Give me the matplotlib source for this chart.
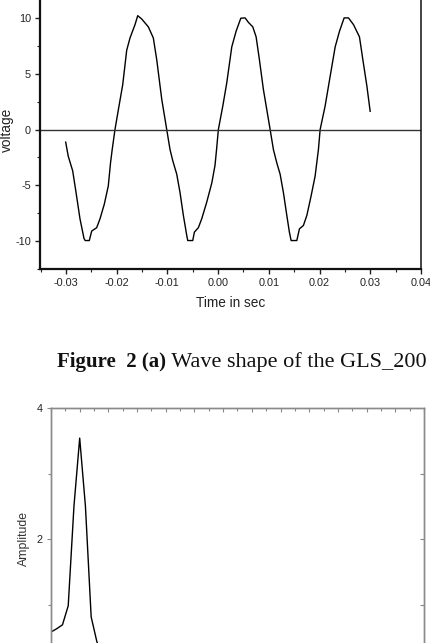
import numpy as np
import matplotlib
matplotlib.use("Agg")
import matplotlib.pyplot as plt
from matplotlib.ticker import MultipleLocator

# -----------------------
# DATA
# -----------------------
# voltage waveform, three cycles
time_s = [-0.03004, -0.02953, -0.02866, -0.02801, -0.02722, -0.02643, -0.02620, -0.02538,
          -0.02491, -0.02393, -0.02327, -0.02243, -0.02164, -0.02120, -0.02087, -0.02032,
          -0.01953, -0.01880, -0.01801, -0.01736, -0.01637, -0.01584, -0.01505, -0.01375,
          -0.01276, -0.01209, -0.01110, -0.01012, -0.00947, -0.00893, -0.00815, -0.00750,
          -0.00684, -0.00617, -0.00598, -0.00499, -0.00467, -0.00389, -0.00322, -0.00223,
          -0.00124, -0.00060, -0.00030, 0.00006, 0.00093, 0.00172, 0.00270, 0.00355,
          0.00448, 0.00533, 0.00598, 0.00684, 0.00750, 0.00815, 0.00893, 0.01026,
          0.01091, 0.01158, 0.01223, 0.01288, 0.01355, 0.01406, 0.01440, 0.01552,
          0.01604, 0.01682, 0.01750, 0.01834, 0.01913, 0.01978, 0.02012, 0.02110,
          0.02209, 0.02308, 0.02393, 0.02485, 0.02570, 0.02669, 0.02787, 0.02854,
          0.02933, 0.02998]
voltage = [-1.13, -2.4, -3.7, -5.6, -8.0, -9.76, -9.95, -9.95,
           -9.1, -8.8, -8.0, -6.7, -5.06, -3.0, -1.8, 0.0,
           2.1, 4.0, 7.1, 8.2, 9.4, 10.2, 9.9, 9.2,
           8.2, 6.25, 2.7, 0.0, -1.8, -2.8, -4.0, -5.65,
           -7.7, -9.5, -9.95, -9.95, -9.2, -8.8, -8.0, -6.5,
           -4.8, -3.2, -1.8, 0.0, 2.1, 4.2, 7.4, 8.8,
           9.97, 10.0, 9.6, 9.2, 8.3, 6.25, 3.6, 0.0,
           -1.8, -3.0, -4.0, -5.65, -7.7, -9.2, -9.95, -9.95,
           -8.9, -8.6, -7.7, -5.95, -4.17, -1.8, 0.0, 2.1,
           4.76, 7.4, 8.8, 10.0, 10.0, 9.4, 8.3, 6.25,
           3.9, 1.63]

# spectrum (only the visible part)
freq_hz = [0, 10, 20, 30, 40, 50, 60, 70, 80, 90]
amplitude = [0.58, 0.63, 0.69, 0.98, 2.5, 3.54, 2.5, 0.81, 0.43, 0.2]

xticks_top = [-0.03, -0.02, -0.01, 0.00, 0.01, 0.02, 0.03, 0.04]
xticklabels_top = ["-0.03", "-0.02", "-0.01", "0.00", "0.01", "0.02", "0.03", "0.04"]
yticks_top = [-10, -5, 0, 5, 10]

caption_bold = "Figure  2 (a)"
caption_rest = " Wave shape of the GLS_200"

# -----------------------
# FIGURE
# -----------------------
plt.rcParams["font.family"] = ["Liberation Sans", "DejaVu Sans"]
plt.rcParams["axes.unicode_minus"] = False

W, H = 431, 643
fig = plt.figure(figsize=(W / 100, H / 100), dpi=100)

# -----------------------
# TOP PLOT: waveform
# -----------------------
ax1 = fig.add_axes([40 / W, 1 - 269 / H, 381 / W, 279 / H])
ax1.plot(time_s, voltage, color="black", lw=1.0)
ax1.axhline(0, color="#333333", lw=1.0)
ax1.set_xlim(-0.0351, 0.04)
ax1.set_ylim(-12.5, 12.5)
ax1.set_xticks(xticks_top)
ax1.set_xticklabels(xticklabels_top)
ax1.set_yticks(yticks_top)
ax1.xaxis.set_minor_locator(MultipleLocator(0.005))
ax1.yaxis.set_minor_locator(MultipleLocator(2.5))
ax1.tick_params(which="both", direction="out", colors="#222222", labelsize=7.8,
                top=False, right=False)
ax1.tick_params(which="major", length=3.5, width=1.0, pad=3)
ax1.tick_params(which="minor", length=2.0, width=0.8)
for side in ["left", "bottom"]:
    ax1.spines[side].set_linewidth(1.6)
    ax1.spines[side].set_color("#111111")
ax1.spines["right"].set_linewidth(1.1)
ax1.spines["right"].set_color("#111111")
ax1.set_xlabel("Time in sec", fontsize=9.8, color="#222222", labelpad=6)
ax1.set_ylabel("voltage", fontsize=9.8, color="#222222", labelpad=1)

# -----------------------
# CAPTION (bold part + regular part)
# -----------------------
cap_y = 1 - 366.5 / H
t1 = fig.text(57 / W, cap_y, caption_bold, fontsize=15.0, fontweight="bold",
              family="Liberation Serif", color="#111111", va="baseline")
fig.canvas.draw()
bb = t1.get_window_extent(renderer=fig.canvas.get_renderer())
fig.text(bb.x1 / W, cap_y, caption_rest, fontsize=16.0, family="Liberation Serif",
         color="#111111", va="baseline")

# -----------------------
# BOTTOM PLOT: spectrum
# -----------------------
ax2 = fig.add_axes([51 / W, (235 - 262) / H, 373 / W, 262 / H])
ax2.plot(freq_hz, amplitude, color="black", lw=1.0)
ax2.set_xlim(0, 650)
ax2.set_ylim(0, 4)
ax2.set_yticks([2, 4])
ax2.yaxis.set_minor_locator(MultipleLocator(1))
ax2.xaxis.set_major_locator(MultipleLocator(50))
ax2.xaxis.set_minor_locator(MultipleLocator(25))
ax2.tick_params(axis="x", which="both", direction="in", top=True, bottom=False,
                labelbottom=False, colors="#888888")
ax2.tick_params(axis="x", which="major", length=3, width=0.8)
ax2.tick_params(axis="x", which="minor", length=2, width=0.8)
ax2.tick_params(axis="y", which="both", direction="out", right=False,
                colors="#888888", labelcolor="#222222", labelsize=7.8, pad=3)
ax2.tick_params(axis="y", which="major", length=3, width=0.8)
ax2.tick_params(axis="y", which="minor", length=2, width=0.8)
ax2r = ax2.twinx()
ax2r.set_ylim(0, 4)
ax2r.set_yticks([1, 2, 3])
ax2r.tick_params(axis="y", direction="in", length=3, width=0.8, colors="#888888",
                 labelright=False)
for a in (ax2, ax2r):
    for s in a.spines.values():
        s.set_color("#8a8a8a")
        s.set_linewidth(1.0)
ax2.set_ylabel("Amplitude", fontsize=8.8, color="#333333", labelpad=5)

fig.savefig("out.png", dpi=100)
